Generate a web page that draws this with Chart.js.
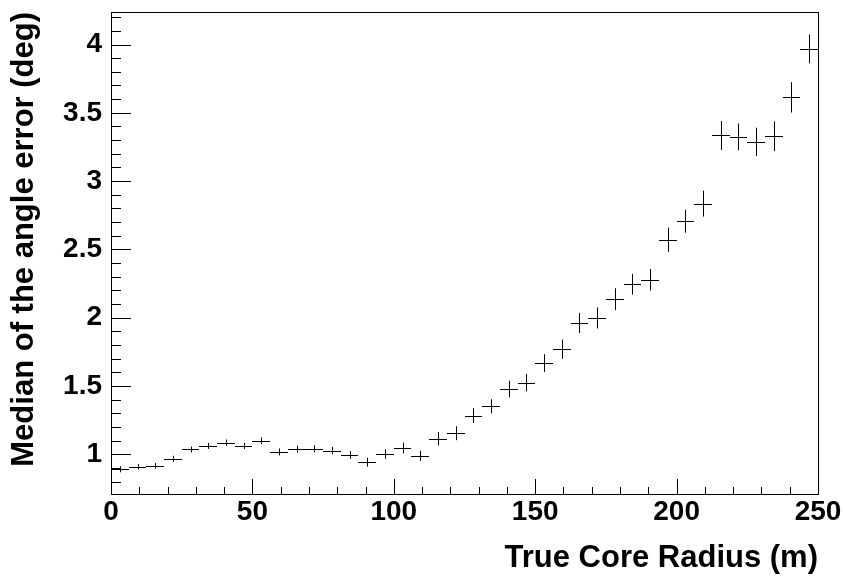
<!DOCTYPE html>
<html>
<head>
<meta charset="utf-8">
<script src="https://cdn.jsdelivr.net/npm/chart.js@4"></script>
<style>
  html, body { margin: 0; padding: 0; background: #fff; }
  #wrap { width: 843px; height: 582px; }
</style>
</head>
<body>
<div id="wrap"><canvas id="c" width="843" height="582"></canvas></div>
<script>
// bin centres of the histogram (40 bins of 6.25 m between 0 and 250)
const binCenters = [3.125, 9.375, 15.625, 21.875, 28.125, 34.375, 40.625, 46.875, 53.125, 59.375,
  65.625, 71.875, 78.125, 84.375, 90.625, 96.875, 103.125, 109.375, 115.625, 121.875,
  128.125, 134.375, 140.625, 146.875, 153.125, 159.375, 165.625, 171.875, 178.125, 184.375,
  190.625, 196.875, 203.125, 209.375, 215.625, 221.875, 228.125, 234.375, 240.625, 246.875];
const binHalfWidth = 3.125;

// median angle error per bin (deg)
const medianErr = [0.89, 0.908, 0.915, 0.967, 1.035, 1.061, 1.085, 1.061, 1.098, 1.017,
  1.037, 1.04, 1.027, 0.994, 0.942, 1.001, 1.046, 0.988, 1.113, 1.154,
  1.283, 1.351, 1.478, 1.524, 1.668, 1.769, 1.961, 1.998, 2.135, 2.245,
  2.278, 2.571, 2.706, 2.835, 3.334, 3.324, 3.287, 3.329, 3.613, 3.968];

// vertical error bars (deg)
const errY = [0.022, 0.02, 0.021, 0.022, 0.022, 0.022, 0.023, 0.023, 0.025, 0.025,
  0.025, 0.026, 0.027, 0.028, 0.032, 0.034, 0.04, 0.037, 0.049, 0.051,
  0.054, 0.052, 0.06, 0.063, 0.065, 0.07, 0.074, 0.077, 0.08, 0.076,
  0.079, 0.089, 0.084, 0.095, 0.106, 0.098, 0.104, 0.109, 0.111, 0.106];

// axis ticks
const xMajor = [0, 50, 100, 150, 200, 250];
const xTicks = [0, 10, 20, 30, 40, 50, 60, 70, 80, 90, 100, 110, 120, 130, 140, 150, 160, 170, 180, 190, 200, 210, 220, 230, 240, 250];
const yMajor = [1, 1.5, 2, 2.5, 3, 3.5, 4];
const yTicks = [0.8, 0.9, 1, 1.1, 1.2, 1.3, 1.4, 1.5, 1.6, 1.7, 1.8, 1.9, 2, 2.1, 2.2, 2.3, 2.4, 2.5, 2.6, 2.7, 2.8, 2.9, 3, 3.1, 3.2, 3.3, 3.4, 3.5, 3.6, 3.7, 3.8, 3.9, 4, 4.1, 4.2];

const FONT = "'Liberation Sans', Arial, Helvetica, sans-serif";

const isMajor = (list, v) => list.some(m => Math.abs(m - v) < 1e-6);
const crisp = v => Math.round(v) + 0.5;

// draws frame, inward ticks and the error crosses
const rootStyle = {
  id: 'rootStyle',
  afterDatasetsDraw(chart) {
    const ctx = chart.ctx;
    const xs = chart.scales.x, ys = chart.scales.y;
    const a = chart.chartArea;
    ctx.save();
    ctx.strokeStyle = '#000';
    ctx.lineWidth = 1;

    // crosses: horizontal = bin width, vertical = error
    ctx.beginPath();
    medianErr.forEach((v, i) => {
      const y = crisp(ys.getPixelForValue(v));
      const x = crisp(xs.getPixelForValue(binCenters[i]));
      ctx.moveTo(Math.round(xs.getPixelForValue(binCenters[i] - binHalfWidth)), y);
      ctx.lineTo(Math.round(xs.getPixelForValue(binCenters[i] + binHalfWidth)), y);
      ctx.moveTo(x, ys.getPixelForValue(v + errY[i]));
      ctx.lineTo(x, ys.getPixelForValue(v - errY[i]));
    });
    ctx.stroke();

    // ticks
    ctx.beginPath();
    xTicks.forEach(t => {
      const x = crisp(xs.getPixelForValue(t));
      const len = isMajor(xMajor, t) ? 15 : 7;
      ctx.moveTo(x, a.bottom);
      ctx.lineTo(x, a.bottom - len);
    });
    yTicks.forEach(t => {
      const y = crisp(ys.getPixelForValue(t));
      const len = isMajor(yMajor, t) ? 20 : 10;
      ctx.moveTo(a.left, y);
      ctx.lineTo(a.left + len, y);
    });
    ctx.stroke();

    // frame
    ctx.strokeRect(crisp(a.left), crisp(a.top), Math.round(a.right - a.left), Math.round(a.bottom - a.top));
    ctx.restore();
  }
};

new Chart(document.getElementById('c'), {
  type: 'scatter',
  data: {
    datasets: [{
      data: binCenters.map((x, i) => ({ x: x, y: medianErr[i] })),
      pointRadius: 0,
      showLine: false
    }]
  },
  options: {
    responsive: false,
    animation: false,
    events: [],
    layout: { padding: { top: 12, right: 25, left: 0, bottom: 0 } },
    plugins: { legend: { display: false }, tooltip: { enabled: false } },
    scales: {
      x: {
        type: 'linear',
        min: 0,
        max: 250,
        afterFit: s => { s.height = 88; s.paddingLeft = 0; s.paddingRight = 0; },
        afterBuildTicks: s => { s.ticks = xTicks.map(v => ({ value: v })); },
        grid: { display: false, drawTicks: false },
        border: { display: false },
        ticks: {
          autoSkip: false,
          maxRotation: 0,
          padding: 1,
          color: '#000',
          font: { family: FONT, size: 28, weight: 'bold' },
          callback: v => isMajor(xMajor, v) ? String(v) : ''
        },
        title: {
          display: true,
          text: 'True Core Radius (m)',
          align: 'end',
          color: '#000',
          padding: { top: 0, bottom: 5 },
          font: { family: FONT, size: 31, weight: 'bold' }
        }
      },
      y: {
        type: 'linear',
        min: 0.709,
        max: 4.238,
        afterFit: s => { s.width = 111; s.paddingTop = 0; s.paddingBottom = 0; },
        afterBuildTicks: s => { s.ticks = yTicks.map(v => ({ value: v })); },
        grid: { display: false, drawTicks: false },
        border: { display: false },
        ticks: {
          autoSkip: false,
          padding: 9,
          color: '#000',
          font: { family: FONT, size: 28, weight: 'bold' },
          callback: v => isMajor(yMajor, v) ? String(Math.round(v * 10) / 10) : ''
        },
        title: {
          display: true,
          text: 'Median of the angle error (deg)',
          align: 'end',
          color: '#000',
          padding: { top: 6, bottom: 0 },
          font: { family: FONT, size: 31, weight: 'bold' }
        }
      }
    }
  },
  plugins: [rootStyle]
});
</script>
</body>
</html>
